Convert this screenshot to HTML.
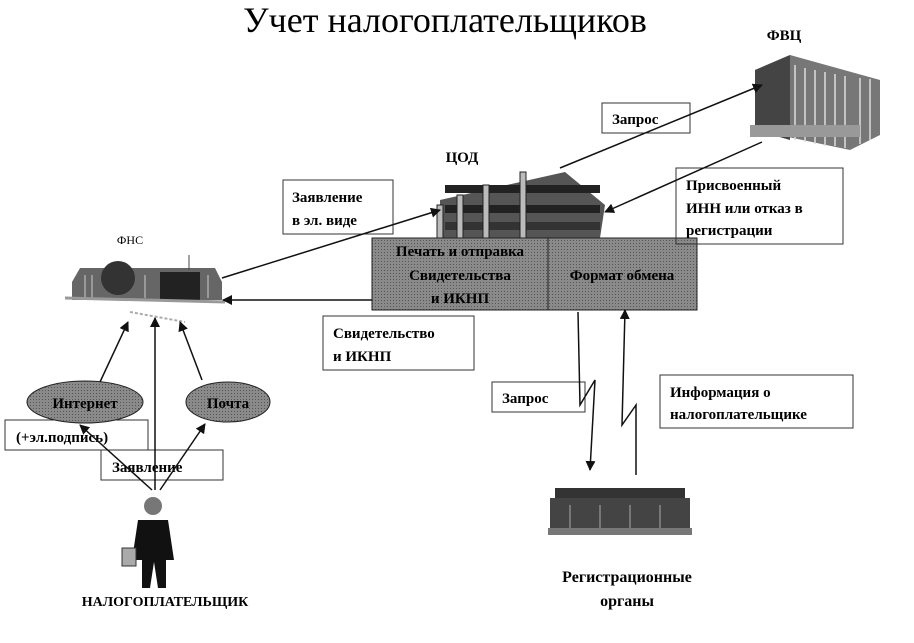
<!DOCTYPE html>
<html><head><meta charset="utf-8"><style>
body{margin:0;background:#fff;width:914px;height:638px;overflow:hidden}
text{font-family:"Liberation Serif","Noto Serif CJK SC",serif}
.b{font-weight:bold;font-size:15px}
</style></head><body>
<svg width="914" height="638" viewBox="0 0 914 638">
<defs>
<marker id="a" markerWidth="10" markerHeight="10" refX="9" refY="5" orient="auto" markerUnits="userSpaceOnUse"><path d="M0,0 L10,5 L0,10 z" fill="#111"/></marker>
<pattern id="g" width="3" height="3" patternUnits="userSpaceOnUse"><rect width="3" height="3" fill="#8a8a8a"/><rect width="1" height="1" fill="#555"/></pattern>
</defs>
<text x="445" y="32" font-size="36" text-anchor="middle">Учет налогоплательщиков</text>
<text x="784" y="40" class="b" font-size="17" text-anchor="middle">ФВЦ</text>
<text x="462" y="162" class="b" font-size="17" text-anchor="middle">ЦОД</text>
<text x="130" y="244" font-size="12" text-anchor="middle">ФНС</text>
<!-- FVC building -->
<g>
<polygon points="755,70 790,55 880,80 880,135 850,150 755,130" fill="#777"/>
<polygon points="755,70 790,55 790,140 755,130" fill="#444"/>
<g stroke="#ddd" stroke-width="1.5">
<line x1="795" y1="65" x2="795" y2="140"/><line x1="805" y1="68" x2="805" y2="142"/><line x1="815" y1="70" x2="815" y2="144"/><line x1="825" y1="72" x2="825" y2="146"/><line x1="835" y1="74" x2="835" y2="146"/><line x1="845" y1="76" x2="845" y2="148"/><line x1="860" y1="78" x2="860" y2="144"/><line x1="870" y1="79" x2="870" y2="140"/>
</g>
<rect x="750" y="125" width="110" height="12" fill="#999"/>
</g>
<!-- COD building -->
<g>
<polygon points="440,200 565,172 605,205 600,238 440,238" fill="#555"/>
<rect x="445" y="185" width="155" height="8" fill="#222"/>
<rect x="445" y="205" width="155" height="8" fill="#222"/>
<rect x="445" y="222" width="155" height="8" fill="#333"/>
<g fill="#bbb" stroke="#222"><rect x="437" y="205" width="6" height="35"/><rect x="457" y="195" width="6" height="45"/><rect x="483" y="185" width="6" height="55"/><rect x="520" y="172" width="6" height="68"/></g>
</g>
<rect x="372" y="238" width="325" height="72" fill="url(#g)" stroke="#222"/>
<line x1="548" y1="238" x2="548" y2="310" stroke="#222"/>
<g class="b" text-anchor="middle" font-size="15" font-weight="bold">
<text x="460" y="256">Печать и отправка</text><text x="460" y="280">Свидетельства</text><text x="460" y="303">и ИКНП</text>
<text x="622" y="280">Формат обмена</text></g>
<!-- boxes -->
<g fill="none" stroke="#333">
<rect x="602" y="103" width="88" height="30"/>
<rect x="283" y="180" width="110" height="54"/>
<rect x="676" y="168" width="167" height="76"/>
<rect x="323" y="316" width="151" height="54"/>
<rect x="492" y="382" width="93" height="30"/>
<rect x="660" y="375" width="193" height="53"/>
<rect x="5" y="420" width="143" height="30"/>
<rect x="101" y="450" width="122" height="30"/>
</g>
<g class="b" font-weight="bold">
<text x="612" y="124">Запрос</text>
<text x="292" y="202">Заявление</text><text x="292" y="225">в эл. виде</text>
<text x="686" y="190">Присвоенный</text><text x="686" y="213">ИНН или отказ в</text><text x="686" y="235">регистрации</text>
<text x="333" y="338">Свидетельство</text><text x="333" y="361">и ИКНП</text>
<text x="502" y="403">Запрос</text>
<text x="670" y="397">Информация о</text><text x="670" y="419">налогоплательщике</text>
<text x="16" y="442">(+эл.подпись)</text>
<text x="112" y="472">Заявление</text>
<text x="627" y="582" text-anchor="middle" font-size="16">Регистрационные</text>
<text x="627" y="606" text-anchor="middle" font-size="16">органы</text>
<text x="165" y="606" text-anchor="middle" font-size="14">НАЛОГОПЛАТЕЛЬЩИК</text>
</g>
<!-- FNS building -->
<g>
<polygon points="72,282 80,268 215,268 222,282 222,300 72,300" fill="#666"/>
<ellipse cx="118" cy="278" rx="17" ry="17" fill="#333"/>
<rect x="160" y="272" width="40" height="28" fill="#222"/>
<g stroke="#ccc"><line x1="85" y1="275" x2="85" y2="298"/><line x1="92" y1="275" x2="92" y2="298"/><line x1="145" y1="275" x2="145" y2="298"/><line x1="208" y1="275" x2="208" y2="298"/></g>
<line x1="65" y1="298" x2="225" y2="302" stroke="#999" stroke-width="3"/>
<line x1="130" y1="312" x2="185" y2="322" stroke="#aaa" stroke-width="2" stroke-dasharray="3,2"/>
<line x1="189" y1="255" x2="189" y2="270" stroke="#444"/>
</g>
<!-- Reg building -->
<g><rect x="555" y="488" width="130" height="10" fill="#333"/><rect x="550" y="498" width="140" height="32" fill="#444"/>
<g stroke="#aaa"><line x1="570" y1="505" x2="570" y2="528"/><line x1="600" y1="505" x2="600" y2="528"/><line x1="630" y1="505" x2="630" y2="528"/><line x1="660" y1="505" x2="660" y2="528"/></g>
<rect x="548" y="528" width="144" height="7" fill="#777"/></g>
<!-- ellipses -->
<ellipse cx="85" cy="402" rx="58" ry="21" fill="url(#g)" stroke="#222"/>
<ellipse cx="228" cy="402" rx="42" ry="20" fill="url(#g)" stroke="#222"/>
<g class="b" font-weight="bold" text-anchor="middle"><text x="85" y="408">Интернет</text><text x="228" y="408">Почта</text></g>
<!-- person -->
<g>
<circle cx="153" cy="506" r="9" fill="#777"/>
<path d="M138,520 L168,520 L174,560 L166,560 L166,588 L158,588 L154,562 L150,588 L142,588 L142,560 L132,560 Z" fill="#111"/>
<rect x="122" y="548" width="14" height="18" fill="#aaa" stroke="#333"/>
</g>
<!-- arrows -->
<g stroke="#111" stroke-width="1.5" fill="none" marker-end="url(#a)">
<line x1="222" y1="278" x2="440" y2="210"/>
<line x1="560" y1="168" x2="762" y2="85"/>
<line x1="762" y1="142" x2="605" y2="212"/>
<line x1="372" y1="300" x2="223" y2="300"/>
<polyline points="578,312 580,405 595,380 590,470"/>
<polyline points="636,475 636,405 622,425 625,310"/>
<line x1="152" y1="490" x2="80" y2="425"/>
<line x1="155" y1="490" x2="155" y2="318"/>
<line x1="160" y1="490" x2="205" y2="424"/>
<line x1="100" y1="382" x2="128" y2="322"/>
<line x1="202" y1="380" x2="180" y2="322"/>
</g>
</svg>
</body></html>
